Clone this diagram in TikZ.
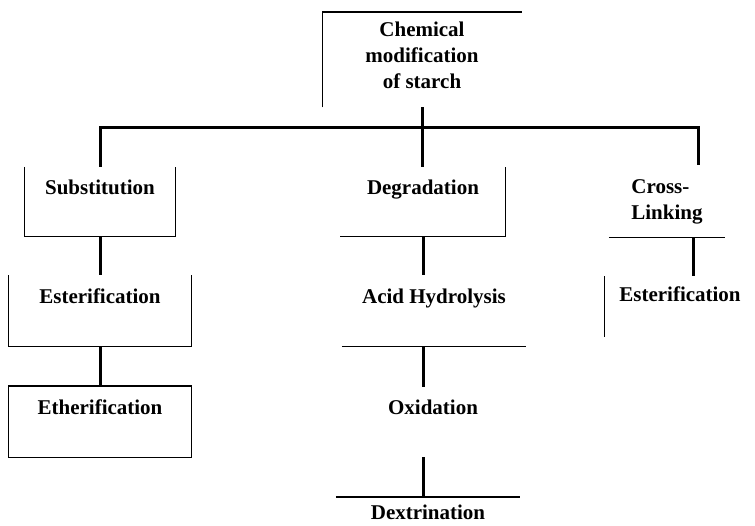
\documentclass[tikz,border=0pt]{standalone}
\usepackage{fontspec}
\setmainfont{Liberation Serif}
\usetikzlibrary{positioning}
\newcommand{\stagefont}{\fontsize{21bp}{26bp}\selectfont\bfseries}

\begin{document}
\begin{tikzpicture}[x=1bp, y=-1bp,
  conn/.style={line width=3bp},
  frame/.style={line width=1.3bp},
  stage/.style={inner sep=0pt, anchor=north, font=\stagefont}]

\useasboundingbox (0,0) rectangle (755,526);

% Top box
\node[stage, minimum width=199bp, text height=24bp, text depth=71bp] (chem) at (422,12)
  {\begin{tabular}[t]{@{}c@{}}Chemical\\modification\\of starch\end{tabular}};

% Substitution column
\node[stage, minimum width=150bp, text height=27bp, text depth=42bp] (sub) at (100,167) {Substitution};
\node[stage, minimum width=182bp, text height=28bp, text depth=43bp] (est) at (100,275) {Esterification};
\node[stage, minimum width=182bp, text height=28bp, text depth=43bp] (eth) at (100,386) {Etherification};

% Degradation column
\node[stage, minimum width=165bp, text height=27bp, text depth=42bp] (deg) at (423,167) {Degradation};
\node[stage, minimum width=184bp, text height=28bp, text depth=43bp] (acid) at (434,275) {Acid Hydrolysis};
\node[stage, minimum width=184bp, text height=27bp, text depth=43bp] (oxi) at (433,387) {Oxidation};
\node[stage, minimum width=184bp, text height=22bp, text depth=6bp] (dex) at (428,497) {Dextrination};

% Cross-linking column
\node[stage, minimum width=116bp, text height=28bp, text depth=44bp] (cross) at (667,165)
  {\begin{tabular}[t]{@{}l@{}}Cross-\\Linking\end{tabular}};
\node[stage, minimum width=150bp, text height=25bp, text depth=36bp] (est2) at (680,276) {Esterification};

% Frames (only some sides drawn)
\draw[frame] (chem.south west) -- (chem.north west) -- (chem.north east);
\draw[frame] (sub.north west) -- (sub.south west) -- (sub.south east) -- (sub.north east);
\draw[frame] (est.north west) -- (est.south west) -- (est.south east) -- (est.north east);
\draw[frame] (eth.north west) rectangle (eth.south east);
\draw[frame] (deg.south west) -- (deg.south east) -- (deg.north east);
\draw[frame] (acid.south west) -- (acid.south east);
\draw[frame] (dex.north west) -- (dex.north east);
\draw[frame] (cross.south west) -- (cross.south east);
\draw[frame] (est2.north west) -- (est2.south west);

% Bus line
\coordinate (bus) at (0,128);
\draw[conn] (sub.north) -- (sub.north |- bus) -- ([xshift=31bp]cross.north |- bus) -- ([xshift=31bp]cross.north);
\draw[conn] (chem.south) -- (chem.south |- deg.north);

% Connectors
\draw[conn] (sub.south) -- (est.north);
\draw[conn] (est.south) -- (eth.north);
\draw[conn] (deg.south) -- (deg.south |- acid.north);
\draw[conn] (acid.south -| deg.south) -- (oxi.north -| deg.south);
\draw[conn] (oxi.south -| deg.south) -- (dex.north -| deg.south);
\draw[conn] ([xshift=26bp]cross.south) -- ([xshift=26bp]cross.south |- est2.north);

\end{tikzpicture}
\end{document}
